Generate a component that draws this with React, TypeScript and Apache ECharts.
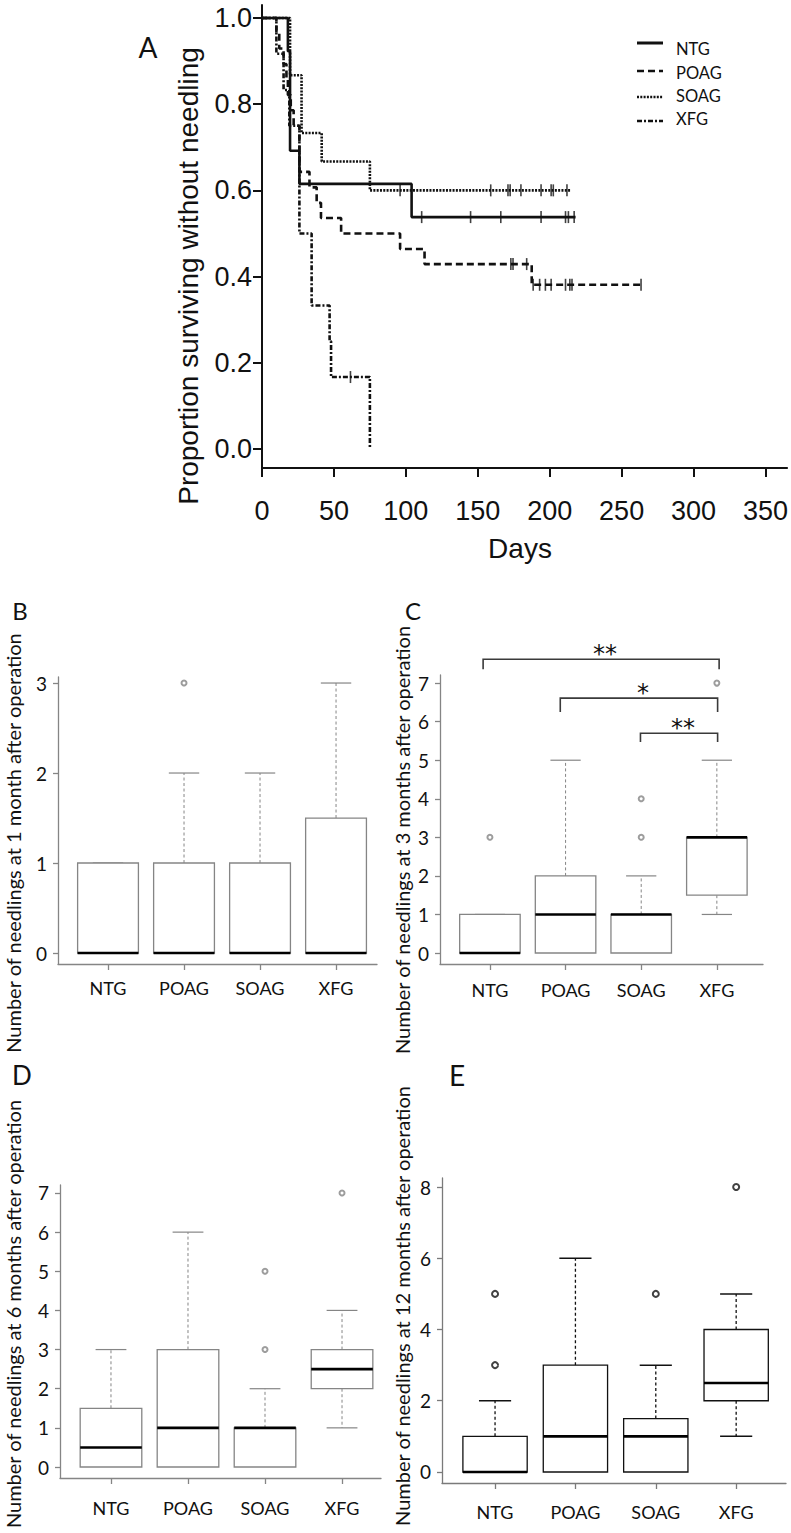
import React, { useEffect, useRef } from 'react';
import * as echarts from 'echarts';

// ---------- Data ----------
const groups = ['NTG', 'POAG', 'SOAG', 'XFG'];

const kmDayTicks = [0, 50, 100, 150, 200, 250, 300, 350];
const kmPropTicks = [0, 0.2, 0.4, 0.6, 0.8, 1.0];

// Kaplan-Meier steps: [day, proportion after event]
const kmNTG = [[0, 1], [18, 0.923], [19.5, 0.692], [26, 0.615], [104, 0.538], [218, 0.538]];
const censNTG = [111, 145, 166, 194, 211, 213, 217];
const kmPOAG = [[0, 1], [10, 0.964], [12, 0.929], [15, 0.893], [17, 0.857], [18, 0.821], [20, 0.786], [22, 0.75], [26, 0.643], [33, 0.607], [38, 0.571], [41, 0.536], [55, 0.5], [96, 0.464], [113, 0.429], [187.5, 0.381], [264, 0.381]];
const censPOAG = [173, 174.5, 184, 188.5, 193, 197, 201, 211, 214, 215.5, 263.5];
const kmSOAG = [[0, 1], [19.5, 0.867], [27.5, 0.733], [41.5, 0.667], [75, 0.6], [215, 0.6]];
const censSOAG = [96, 159, 171, 172.5, 180, 194, 201, 202.5, 212];
const kmXFG = [[0, 1], [10, 0.917], [15, 0.833], [19, 0.75], [26, 0.5], [34.5, 0.333], [47, 0.25], [48, 0.167], [75, 0]];
const censXFG = [61.5];

// Box plots: [min whisker, Q1, median, Q3, max whisker] per group
const box1m = [[0, 0, 0, 1, 1], [0, 0, 0, 1, 2], [0, 0, 0, 1, 2], [0, 0, 0, 1.5, 3]];
const out1m = [['POAG', 3]];
const ticks1m = [0, 1, 2, 3];

const box3m = [[0, 0, 0, 1, 1], [0, 0, 1, 2, 5], [0, 0, 1, 1, 2], [1, 1.5, 3, 3, 5]];
const out3m = [['NTG', 3], ['SOAG', 3], ['SOAG', 4], ['XFG', 7]];
const ticks3m = [0, 1, 2, 3, 4, 5, 6, 7];
const sig3m = [['NTG', 'XFG', '**'], ['POAG', 'XFG', '*'], ['SOAG', 'XFG', '**']];

const box6m = [[0, 0, 0.5, 1.5, 3], [0, 0, 1, 3, 6], [0, 0, 1, 1, 2], [1, 2, 2.5, 3, 4]];
const out6m = [['SOAG', 3], ['SOAG', 5], ['XFG', 7]];
const ticks6m = [0, 1, 2, 3, 4, 5, 6, 7];

const box12m = [[0, 0, 0, 1, 2], [0, 0, 1, 3, 6], [0, 0, 1, 1.5, 3], [1, 2, 2.5, 4, 5]];
const out12m = [['NTG', 3], ['NTG', 5], ['SOAG', 5], ['XFG', 8]];
const ticks12m = [0, 2, 4, 6, 8];

// ---------- Layout ----------
const LATO = 'Lato, "Open Sans", sans-serif';
const ARIAL = '"Liberation Sans", Arial, sans-serif';

// bracket layout for panel C (data units): [top, left drop, right drop]
const bracketLayout = [[7.62, 7.36, 7.36], [6.61, 6.25, 6.25], [5.70, 5.47, 5.47]];
const bracketXOffset = [[-0.09, 0.03], [-0.07, 0.01], [-0.01, 0.01]];

function levelAt(curve: number[][], t: number) {
  let s = curve[0][1];
  for (const [tt, v] of curve) if (tt <= t) s = v;
  return s;
}

const panels = [
  { box: box1m, out: out1m, ticks: ticks1m, grid: { left: 58, top: 677, width: 319, height: 287 }, xMin: 0.342, xMax: 4.539, yMin: -0.122, yMax: 3.067, color: '#858585', axisColor: '#858585', lm: 15, whiskW: 1, symSize: 5 },
  { box: box3m, out: out3m, ticks: ticks3m, grid: { left: 440, top: 675, width: 323, height: 289 }, xMin: 0.34, xMax: 4.61, yMin: -0.285, yMax: 7.21, color: '#858585', axisColor: '#858585', lm: 17, whiskW: 1, symSize: 5 },
  { box: box6m, out: out6m, ticks: ticks6m, grid: { left: 60, top: 1185, width: 321, height: 293 }, xMin: 0.338, xMax: 4.506, yMin: -0.281, yMax: 7.204, color: '#858585', axisColor: '#858585', lm: 21, whiskW: 1, symSize: 5 },
  { box: box12m, out: out12m, ticks: ticks12m, grid: { left: 442, top: 1178, width: 344, height: 305 }, xMin: 0.34, xMax: 4.62, yMin: -0.309, yMax: 8.253, color: '#111111', axisColor: '#7a7a7a', lm: 20, whiskW: 1.3, symSize: 6 },
];

const kmLineTypes: any = {
  NTG: 'solid',
  POAG: [7, 4],
  SOAG: [2, 1.3],
  XFG: [5, 2, 2, 2],
};

function boxRenderer(color: string, whiskW: number) {
  return (params: any, api: any) => {
    const x = api.value(0);
    const low = api.value(1), q1 = api.value(2), med = api.value(3), q3 = api.value(4), high = api.value(5);
    const pL = api.coord([x, low]);
    const pQ1 = api.coord([x, q1]);
    const pM = api.coord([x, med]);
    const pQ3 = api.coord([x, q3]);
    const pH = api.coord([x, high]);
    const half = api.size([0.8, 0])[0] / 2;
    const cap = half / 2;
    const cx = pM[0];
    const children: any[] = [];
    if (high > q3) {
      children.push({ type: 'line', shape: { x1: cx, y1: pQ3[1], x2: cx, y2: pH[1] }, style: { stroke: color, lineWidth: whiskW, lineDash: [3, 2.5] } });
    }
    children.push({ type: 'line', shape: { x1: cx - cap, y1: pH[1], x2: cx + cap, y2: pH[1] }, style: { stroke: color, lineWidth: whiskW + 0.2 } });
    if (low < q1) {
      children.push({ type: 'line', shape: { x1: cx, y1: pQ1[1], x2: cx, y2: pL[1] }, style: { stroke: color, lineWidth: whiskW, lineDash: [3, 2.5] } });
      children.push({ type: 'line', shape: { x1: cx - cap, y1: pL[1], x2: cx + cap, y2: pL[1] }, style: { stroke: color, lineWidth: whiskW + 0.2 } });
    }
    children.push({ type: 'rect', shape: { x: cx - half, y: pQ3[1], width: half * 2, height: pQ1[1] - pQ3[1] }, style: { fill: '#fff', stroke: color, lineWidth: 1.3 } });
    children.push({ type: 'line', shape: { x1: cx - half, y1: pM[1], x2: cx + half, y2: pM[1] }, style: { stroke: '#000', lineWidth: 2.6 } });
    return { type: 'group', children };
  };
}

function sigRenderer(params: any, api: any) {
  const i = params.dataIndex;
  const x1 = api.value(0), x2 = api.value(1);
  const [top, dl, dr] = bracketLayout[i];
  const [ox1, ox2] = bracketXOffset[i];
  const a = api.coord([x1 + ox1, dl]);
  const b = api.coord([x1 + ox1, top]);
  const c = api.coord([x2 + ox2, top]);
  const d = api.coord([x2 + ox2, dr]);
  return {
    type: 'group',
    children: [
      { type: 'polyline', shape: { points: [a, b, c, d] }, style: { stroke: '#3a3a3a', lineWidth: 1.6, fill: 'none' } },
      { type: 'text', style: { text: sig3m[i][2], x: (b[0] + c[0]) / 2 + 4, y: b[1] - 5, align: 'center', verticalAlign: 'middle', fontSize: 24, fontFamily: '"DejaVu Sans", sans-serif', fill: '#111' } },
    ],
  };
}

export default function App() {
  const ref = useRef<HTMLDivElement>(null);
  useEffect(() => {
    if (!ref.current) return;
    const chart = echarts.init(ref.current, null, { renderer: 'svg' });

    const grids: any[] = [{ left: 262, top: 5, width: 528, height: 463 }];
    const xAxes: any[] = [{
      type: 'value', gridIndex: 0, min: 0, max: 365,
      axisLine: { show: true, onZero: false, lineStyle: { color: '#111', width: 2 } },
      axisTick: { show: true, length: 9, lineStyle: { color: '#111', width: 2 }, customValues: kmDayTicks },
      axisLabel: { customValues: kmDayTicks, fontSize: 27, fontFamily: ARIAL, color: '#111', margin: 29 },
      splitLine: { show: false },
    }];
    const yAxes: any[] = [{
      type: 'value', gridIndex: 0, min: -0.044, max: 1.03,
      axisLine: { show: true, onZero: false, lineStyle: { color: '#111', width: 2 } },
      axisTick: { show: true, length: 9, lineStyle: { color: '#111', width: 2 }, customValues: kmPropTicks },
      axisLabel: { customValues: kmPropTicks, fontSize: 27, fontFamily: ARIAL, color: '#111', margin: 10, formatter: (v: number) => v.toFixed(1) },
      splitLine: { show: false },
    }];

    const kmCurves: any = { NTG: kmNTG, POAG: kmPOAG, SOAG: kmSOAG, XFG: kmXFG };
    const kmCens: any = { NTG: censNTG, POAG: censPOAG, SOAG: censSOAG, XFG: censXFG };

    const series: any[] = [];
    groups.forEach((g) => {
      series.push({
        name: g, type: 'line', xAxisIndex: 0, yAxisIndex: 0, step: 'end', symbol: 'none',
        data: kmCurves[g], lineStyle: { color: '#111', type: kmLineTypes[g], width: 2.6 },
        z: 3,
      });
    });
    groups.forEach((g) => {
      series.push({
        name: g + ' censored', type: 'scatter', xAxisIndex: 0, yAxisIndex: 0,
        symbol: 'rect', symbolSize: [1.6, 12], itemStyle: { color: '#111' },
        data: kmCens[g].map((t: number) => [t, levelAt(kmCurves[g], t)]), z: 4,
      });
    });

    panels.forEach((p, k) => {
      const gi = k + 1;
      grids.push(p.grid);
      xAxes.push({
        type: 'value', gridIndex: gi, min: p.xMin, max: p.xMax,
        axisLine: { show: true, onZero: false, lineStyle: { color: p.axisColor, width: 1.3 } },
        axisTick: { show: true, length: 6, lineStyle: { color: p.axisColor, width: 1.3 }, customValues: [1, 2, 3, 4] },
        axisLabel: { customValues: [1, 2, 3, 4], formatter: (v: number) => groups[Math.round(v) - 1] || '', fontSize: 18, fontFamily: LATO, color: '#111', margin: p.lm },
        splitLine: { show: false },
      });
      yAxes.push({
        type: 'value', gridIndex: gi, min: p.yMin, max: p.yMax,
        axisLine: { show: true, onZero: false, lineStyle: { color: p.axisColor, width: 1.3 } },
        axisTick: { show: true, length: 5, lineStyle: { color: p.axisColor, width: 1.3 }, customValues: p.ticks },
        axisLabel: { customValues: p.ticks, fontSize: 19, fontFamily: LATO, color: '#111', margin: 11 },
        splitLine: { show: false },
      });
      series.push({
        type: 'custom', xAxisIndex: gi, yAxisIndex: gi,
        renderItem: boxRenderer(p.color, p.whiskW),
        data: p.box.map((b, i) => [i + 1, ...b]),
        encode: { x: 0, y: [1, 2, 3, 4, 5] },
        z: 2,
      });
      series.push({
        type: 'scatter', xAxisIndex: gi, yAxisIndex: gi,
        symbol: 'emptyCircle', symbolSize: p.symSize,
        itemStyle: { color: p.color, borderColor: p.color, borderWidth: k === 3 ? 1.6 : 1 },
        data: (p.out as any[]).map(([g, v]) => [groups.indexOf(g) + 1, v]),
        z: 3,
      });
      if (k === 1) {
        series.push({
          type: 'custom', xAxisIndex: gi, yAxisIndex: gi, clip: false,
          renderItem: sigRenderer,
          data: sig3m.map(([a, b]) => [groups.indexOf(a) + 1, groups.indexOf(b) + 1]),
          z: 5,
        });
      }
    });

    const yTitle = (text: string, x: number, y: number) => ({
      type: 'text', x, y, rotation: Math.PI / 2,
      style: { text, fontSize: 20, fontFamily: LATO, fill: '#111', align: 'center', verticalAlign: 'middle' },
    });
    const letter = (text: string, x: number, y: number, size: number) => ({
      type: 'text', x, y,
      style: { text, fontSize: size, fontFamily: LATO, fill: '#111', align: 'center', verticalAlign: 'middle' },
    });

    // legend drawn as graphic
    const legendLineY = [43, 71, 97, 121];
    const legendTextY = [49, 73, 96, 119];
    const legendGraphics: any[] = [];
    groups.forEach((g, i) => {
      const t = kmLineTypes[g];
      legendGraphics.push({
        type: 'line', shape: { x1: 637, y1: legendLineY[i], x2: 663, y2: legendLineY[i] },
        style: { stroke: '#111', lineWidth: i === 0 ? 3 : 2.6, lineDash: t === 'solid' ? null : t },
      });
      legendGraphics.push({
        type: 'text', x: 676, y: legendTextY[i],
        style: { text: g, fontSize: 16.5, fontFamily: LATO, fill: '#111', align: 'left', verticalAlign: 'middle' },
      });
    });

    chart.setOption({
      animation: false,
      backgroundColor: '#fff',
      grid: grids,
      xAxis: xAxes,
      yAxis: yAxes,
      series,
      graphic: [
        ...legendGraphics,
        letter('A', 148, 47, 28),
        letter('B', 20, 610, 24),
        letter('C', 413, 610, 24),
        letter('D', 22, 1075, 26),
        letter('E', 457, 1075, 28),
        { type: 'text', x: 520, y: 548, style: { text: 'Days', fontSize: 28, fontFamily: ARIAL, fill: '#111', align: 'center', verticalAlign: 'middle' } },
        { type: 'text', x: 188, y: 276, rotation: Math.PI / 2, style: { text: 'Proportion surviving without needling', fontSize: 28, fontFamily: ARIAL, fill: '#111', align: 'center', verticalAlign: 'middle' } },
        yTitle('Number of needlings at 1 month after operation', 13, 843),
        yTitle('Number of needlings at 3 months after operation', 402, 840),
        yTitle('Number of needlings at 6 months after operation', 13, 1314),
        yTitle('Number of needlings at 12 months after operation', 402, 1306),
      ],
    });
    return () => chart.dispose();
  }, []);
  return <div ref={ref} style={{ position: 'absolute', left: 0, top: 0, width: 791, height: 1533, background: '#fff' }} />;
}
